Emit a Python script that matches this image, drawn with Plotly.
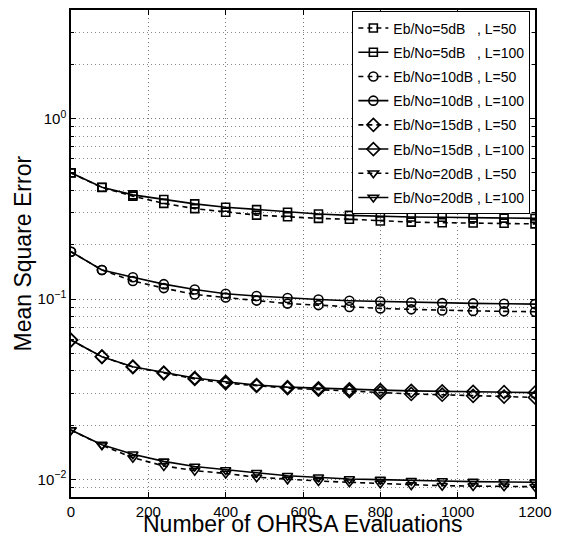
import plotly.graph_objects as go
import math

evaluations = [0, 80, 160, 240, 320, 400, 480, 560, 640, 720, 800, 880, 960, 1040, 1120, 1200]

mse_5dB_L50 = [0.500, 0.415, 0.372, 0.339, 0.317, 0.303, 0.292, 0.286, 0.280, 0.277, 0.271, 0.267, 0.265, 0.264, 0.263, 0.261]
mse_5dB_L100 = [0.501, 0.417, 0.378, 0.356, 0.337, 0.323, 0.313, 0.303, 0.296, 0.291, 0.287, 0.285, 0.284, 0.282, 0.281, 0.280]
mse_10dB_L50 = [0.183, 0.145, 0.126, 0.115, 0.106, 0.102, 0.0981, 0.0944, 0.0926, 0.0903, 0.0888, 0.0877, 0.0865, 0.0860, 0.0855, 0.0851]
mse_10dB_L100 = [0.183, 0.145, 0.132, 0.121, 0.113, 0.107, 0.104, 0.1013, 0.0994, 0.0979, 0.0969, 0.0957, 0.0950, 0.0946, 0.0942, 0.0938]
mse_15dB_L50 = [0.0593, 0.0479, 0.0420, 0.0388, 0.0361, 0.0342, 0.0330, 0.0321, 0.0315, 0.0309, 0.0303, 0.0298, 0.0295, 0.0291, 0.0288, 0.0285]
mse_15dB_L100 = [0.0593, 0.0479, 0.0422, 0.0391, 0.0365, 0.0348, 0.0334, 0.0325, 0.0320, 0.0316, 0.0313, 0.0310, 0.0308, 0.0306, 0.0305, 0.0303]
mse_20dB_L50 = [0.0188, 0.0155, 0.0132, 0.0119, 0.0112, 0.0108, 0.0103, 0.01002, 0.00981, 0.00965, 0.00952, 0.00931, 0.00924, 0.00920, 0.00917, 0.00912]
mse_20dB_L100 = [0.0188, 0.0156, 0.0138, 0.0126, 0.0118, 0.0113, 0.0109, 0.0105, 0.0103, 0.01007, 0.00998, 0.00985, 0.00981, 0.00973, 0.00969, 0.00965]

series_names = [
    "Eb/No=5dB\u00a0\u00a0\u00a0, L=50",
    "Eb/No=5dB\u00a0\u00a0\u00a0, L=100",
    "Eb/No=10dB , L=50",
    "Eb/No=10dB , L=100",
    "Eb/No=15dB , L=50",
    "Eb/No=15dB , L=100",
    "Eb/No=20dB , L=50",
    "Eb/No=20dB , L=100",
]
series_values = [mse_5dB_L50, mse_5dB_L100, mse_10dB_L50, mse_10dB_L100,
                 mse_15dB_L50, mse_15dB_L100, mse_20dB_L50, mse_20dB_L100]
series_symbols = ["square-open", "square-open", "circle-open", "circle-open",
                  "diamond-open", "diamond-open", "triangle-down-open", "triangle-down-open"]
series_dash = ["5px,4px", "solid"] * 4
marker_sizes = [8, 8, 9, 9, 10, 10, 9, 9]

x_ticks = [0, 200, 400, 600, 800, 1000, 1200]
y_tickvals = [0.01, 0.1, 1]
y_ticktext = ["10<sup>\u22122</sup>", "10<sup>\u22121</sup>", "10<sup>0</sup>"]
x_title = "Number of OHRSA Evaluations"
y_title = "Mean Square Error"

fig = go.Figure()
for i, (name, vals, sym, dash, ms) in enumerate(zip(series_names, series_values, series_symbols, series_dash, marker_sizes)):
    fig.add_trace(go.Scatter(
        x=evaluations, y=vals, name=name, mode="lines+markers",
        legendgroup=f"g{i}",
        line=dict(color="black", width=1.6, dash=dash),
        marker=dict(symbol=sym, size=ms, color="black", line=dict(color="black", width=1.6)),
    ))

font_family = "Liberation Sans, Arial, Helvetica, sans-serif"
grid_dash = "1px,3px"
fig.update_layout(
    width=563, height=536,
    margin=dict(l=71, r=28, t=10, b=39),
    paper_bgcolor="white", plot_bgcolor="white",
    font=dict(family=font_family, color="black", size=15),
    showlegend=True,
    legend=dict(
        x=0.99, y=0.997, xanchor="right", yanchor="top",
        bgcolor="white", bordercolor="black", borderwidth=1,
        font=dict(size=14, family=font_family),
        tracegroupgap=3, traceorder="grouped",
    ),
    xaxis=dict(
        range=[0, 1200], tickvals=x_ticks, ticks="inside", ticklen=5,
        tickwidth=1, tickcolor="black",
        showline=True, linecolor="black", linewidth=1.5, mirror="ticks",
        showgrid=True, gridcolor="#777777", griddash=grid_dash, gridwidth=1,
        zeroline=False, automargin=False,
        tickfont=dict(size=15),
    ),
    yaxis=dict(
        type="log", range=[math.log10(0.008), math.log10(4)],
        tickvals=y_tickvals, ticktext=y_ticktext,
        ticks="inside", ticklen=5, tickwidth=1, tickcolor="black",
        showline=True, linecolor="black", linewidth=1.5, mirror="ticks",
        showgrid=True, gridcolor="#777777", griddash=grid_dash, gridwidth=1,
        zeroline=False, automargin=False,
        tickfont=dict(size=15),
        minor=dict(dtick="D1", showgrid=True, gridcolor="#888888", griddash=grid_dash,
                   gridwidth=1, ticks="inside", ticklen=3, tickcolor="black"),
    ),
    annotations=[
        dict(text=x_title, xref="paper", yref="paper", x=0.5, y=0, yshift=-42,
             xanchor="center", yanchor="bottom", showarrow=False,
             font=dict(size=23, family=font_family)),
        dict(text=y_title, xref="paper", yref="paper", x=0, xshift=-64, y=0.5,
             xanchor="left", yanchor="middle", textangle=-90, showarrow=False,
             font=dict(size=23, family=font_family)),
    ],
)

fig.write_html("out.html", config={"displayModeBar": False},
               post_script="document.body.style.margin='0';document.body.style.overflow='hidden';")
